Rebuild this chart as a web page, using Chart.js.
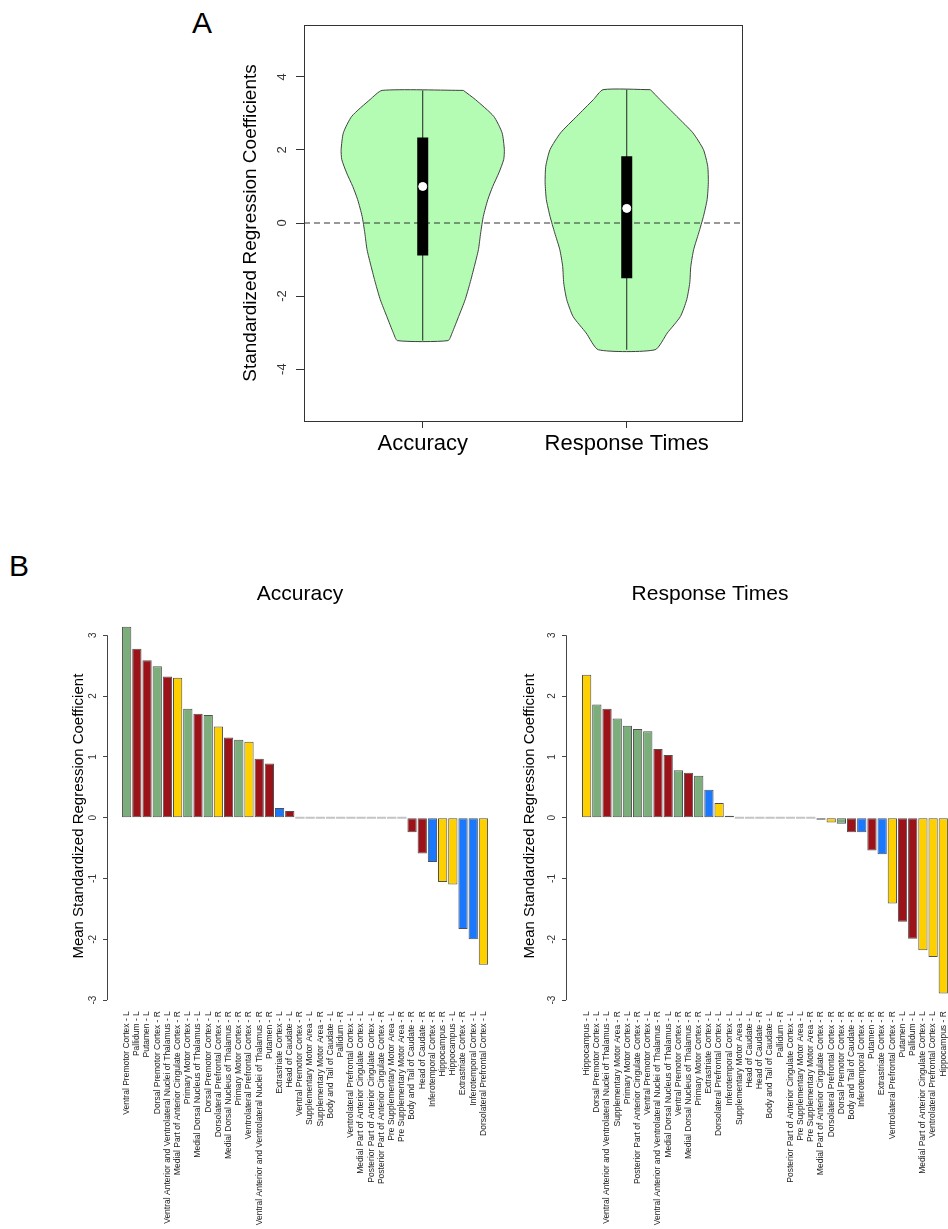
<!DOCTYPE html>
<html>
<head>
<meta charset="utf-8">
<script src="https://cdn.jsdelivr.net/npm/chart.js@4.4.1/dist/chart.umd.min.js"></script>
<style>
body { margin: 0; background: #fff; overflow: hidden; width: 948px; height: 1229px; position: relative; font-family: "Liberation Sans", Arial, sans-serif; }
.box { position: absolute; }
.tag { position: absolute; font-size: 30px; line-height: 30px; color: #000; }
</style>
</head>
<body>
<div class="tag" style="left:192px;top:8px">A</div>
<div class="tag" style="left:9px;top:551px">B</div>
<div class="box" style="left:0;top:0"><canvas id="violin" width="948" height="480"></canvas></div>
<div class="box" style="left:0;top:540px"><canvas id="barAcc" width="500" height="689"></canvas></div>
<div class="box" style="left:471px;top:540px"><canvas id="barRt" width="479" height="689"></canvas></div>
<script>
// panel A - violins
let vioNames = ['Accuracy', 'Response Times'];
let accLevels = [3.63, 3.38, 2.92, 2.47, 2.01, 1.74, 1.37, 1.00, 0.64, 0.18, -0.27, -0.73, -1.19, -1.64, -2.10, -2.56, -3.01, -3.22];
let accHalf = [0.199, 0.258, 0.348, 0.389, 0.400, 0.397, 0.373, 0.343, 0.319, 0.297, 0.284, 0.273, 0.253, 0.232, 0.208, 0.176, 0.144, 0.124];
let rtLevels = [3.65, 3.38, 2.92, 2.47, 2.01, 1.55, 1.10, 0.64, 0.18, -0.27, -0.73, -1.19, -1.64, -2.10, -2.56, -3.01, -3.47];
let rtHalf = [0.116, 0.163, 0.245, 0.324, 0.376, 0.397, 0.400, 0.394, 0.376, 0.353, 0.328, 0.314, 0.309, 0.294, 0.263, 0.199, 0.139];
let boxQ1 = [-0.89, -1.51];
let boxQ3 = [2.34, 1.83];
let boxMed = [1.00, 0.40];
let whiskLo = [-3.22, -3.47];
let whiskHi = [3.63, 3.65];
let yTicksA = [-4, -2, 0, 2, 4];

// panel B - bars
let accRegions = ['Ventral Premotor Cortex - L', 'Pallidum - L', 'Putamen - L', 'Dorsal Premotor Cortex - R',
    'Ventral Anterior and Ventrolateral Nuclei of Thalamus - L', 'Medial Part of Anterior Cingulate Cortex - R',
    'Primary Motor Cortex - L', 'Medial Dorsal Nucleus of Thalamus - L', 'Dorsal Premotor Cortex - L',
    'Dorsolateral Prefrontal Cortex - R', 'Medial Dorsal Nucleus of Thalamus - R', 'Primary Motor Cortex - R',
    'Ventrolateral Prefrontal Cortex - R', 'Ventral Anterior and Ventrolateral Nuclei of Thalamus - R', 'Putamen - R',
    'Extrastriate Cortex - L', 'Head of Caudate - L', 'Ventral Premotor Cortex - R', 'Supplementary Motor Area - L',
    'Supplementary Motor Area - R', 'Body and Tail of Caudate - L', 'Pallidum - R', 'Ventrolateral Prefrontal Cortex - L',
    'Medial Part of Anterior Cingulate Cortex - L', 'Posterior Part of Anterior Cingulate Cortex - L',
    'Posterior Part of Anterior Cingulate Cortex - R', 'Pre Supplementary Motor Area - L', 'Pre Supplementary Motor Area - R',
    'Body and Tail of Caudate - R', 'Head of Caudate - R', 'Inferotemporal Cortex - R', 'Hippocampus - R', 'Hippocampus - L',
    'Extrastriate Cortex - R', 'Inferotemporal Cortex - L', 'Dorsolateral Prefrontal Cortex - L'];
let accValues = [3.14, 2.78, 2.59, 2.49, 2.32, 2.30, 1.79, 1.71, 1.69, 1.50, 1.32, 1.28, 1.25, 0.97, 0.89, 0.16, 0.11,
    0, 0, 0, 0, 0, 0, 0, 0, 0, 0, 0,
    -0.24, -0.59, -0.73, -1.06, -1.10, -1.83, -2.00, -2.42];
let accGroups = ['G', 'R', 'R', 'G', 'R', 'Y', 'G', 'R', 'G', 'Y', 'R', 'G', 'Y', 'R', 'R', 'B', 'R',
    'G', 'G', 'G', 'R', 'R', 'Y', 'Y', 'G', 'G', 'G', 'G',
    'R', 'R', 'B', 'Y', 'Y', 'B', 'B', 'Y'];

let rtRegions = ['Hippocampus - L', 'Dorsal Premotor Cortex - L', 'Ventral Anterior and Ventrolateral Nuclei of Thalamus - L',
    'Supplementary Motor Area - R', 'Primary Motor Cortex - L', 'Posterior Part of Anterior Cingulate Cortex - R',
    'Ventral Premotor Cortex - L', 'Ventral Anterior and Ventrolateral Nuclei of Thalamus - R',
    'Medial Dorsal Nucleus of Thalamus - L', 'Ventral Premotor Cortex - R', 'Medial Dorsal Nucleus of Thalamus - R',
    'Primary Motor Cortex - R', 'Extrastriate Cortex - L', 'Dorsolateral Prefrontal Cortex - L', 'Inferotemporal Cortex - L',
    'Supplementary Motor Area - L', 'Head of Caudate - L', 'Head of Caudate - R', 'Body and Tail of Caudate - L',
    'Pallidum - R', 'Posterior Part of Anterior Cingulate Cortex - L', 'Pre Supplementary Motor Area - L',
    'Pre Supplementary Motor Area - R', 'Medial Part of Anterior Cingulate Cortex - R', 'Dorsolateral Prefrontal Cortex - R',
    'Dorsal Premotor Cortex - R', 'Body and Tail of Caudate - R', 'Inferotemporal Cortex - R', 'Putamen - R',
    'Extrastriate Cortex - R', 'Ventrolateral Prefrontal Cortex - R', 'Putamen - L', 'Pallidum - L',
    'Medial Part of Anterior Cingulate Cortex - L', 'Ventrolateral Prefrontal Cortex - L', 'Hippocampus - R'];
let rtValues = [2.35, 1.86, 1.79, 1.63, 1.51, 1.46, 1.42, 1.13, 1.03, 0.78, 0.74, 0.69, 0.46, 0.24, 0.03,
    0, 0, 0, 0, 0, 0, 0, 0,
    -0.01, -0.08, -0.10, -0.24, -0.24, -0.54, -0.60, -1.41, -1.71, -1.99, -2.18, -2.29, -2.89];
let rtGroups = ['Y', 'G', 'R', 'G', 'G', 'G', 'G', 'R', 'R', 'G', 'R', 'G', 'B', 'Y', 'B',
    'G', 'R', 'R', 'R', 'R', 'G', 'G', 'G',
    'Y', 'Y', 'G', 'R', 'B', 'R', 'B', 'Y', 'R', 'R', 'Y', 'Y', 'Y'];
let yTicksB = [-3, -2, -1, 0, 1, 2, 3];

let groupColors = { G: '#7BAE7B', R: '#9B1218', Y: '#FFD000', B: '#1A78FF' };
let zeroColor = '#C4C4C4';

Chart.defaults.font.family = '"Liberation Sans", Arial, sans-serif';
Chart.defaults.color = '#000';

// box round the plot region, like R
const framePlugin = {
    id: 'frame',
    afterDraw(chart) {
        const a = chart.chartArea, ctx = chart.ctx;
        ctx.save();
        ctx.strokeStyle = '#333';
        ctx.lineWidth = 1;
        ctx.strokeRect(Math.round(a.left) + 0.5, Math.round(a.top) + 0.5,
            Math.round(a.right - a.left), Math.round(a.bottom - a.top));
        ctx.restore();
    }
};

// y axis line only over the tick range
const axisLinePlugin = {
    id: 'axisLine',
    afterDraw(chart) {
        const y = chart.scales.y, ctx = chart.ctx;
        const x = Math.round(y.right) + 0.5;
        ctx.save();
        ctx.strokeStyle = '#444';
        ctx.lineWidth = 1;
        ctx.beginPath();
        ctx.moveTo(x, y.getPixelForValue(yTicksB[0]));
        ctx.lineTo(x, y.getPixelForValue(yTicksB[yTicksB.length - 1]));
        ctx.stroke();
        ctx.restore();
    }
};

function violinPoints(center, levels, half) {
    const right = levels.map((y, i) => ({ x: center + half[i], y: y }));
    const left = levels.map((y, i) => ({ x: center - half[i], y: y })).reverse();
    return right.concat(left, [right[0]]);
}

const xMinA = 0.418, xMaxA = 2.565;
let vioSets = [];
[[accLevels, accHalf], [rtLevels, rtHalf]].forEach((v, i) => {
    vioSets.push({
        data: violinPoints(i + 1, v[0], v[1]), showLine: true, fill: 'shape',
        backgroundColor: '#B4FBB4', borderColor: '#404040', borderWidth: 1,
        pointRadius: 0, tension: 0.2, order: 5
    });
    vioSets.push({
        data: [{ x: i + 1, y: whiskLo[i] }, { x: i + 1, y: whiskHi[i] }], showLine: true,
        borderColor: '#222', borderWidth: 1, pointRadius: 0, order: 3
    });
    vioSets.push({
        data: [{ x: i + 1, y: boxQ1[i] }, { x: i + 1, y: boxQ3[i] }], showLine: true,
        borderColor: '#000', borderWidth: 11, borderCapStyle: 'butt', pointRadius: 0, order: 2
    });
});
vioSets.push({
    data: [{ x: xMinA, y: 0 }, { x: xMaxA, y: 0 }], showLine: true,
    borderColor: '#333', borderWidth: 1, borderDash: [6, 4], pointRadius: 0, order: 4
});
vioSets.push({
    data: boxMed.map((m, i) => ({ x: i + 1, y: m })), showLine: false,
    pointRadius: 4, pointBackgroundColor: '#fff', pointBorderColor: '#fff', order: 1
});

new Chart(document.getElementById('violin'), {
    type: 'scatter',
    data: { datasets: vioSets },
    plugins: [framePlugin],
    options: {
        responsive: false, animation: false, devicePixelRatio: 1,
        layout: { padding: { top: 25, right: 206, left: 0, bottom: 0 } },
        plugins: { legend: { display: false }, tooltip: { enabled: false } },
        scales: {
            x: {
                type: 'linear', min: xMinA, max: xMaxA,
                afterBuildTicks: s => { s.ticks = vioNames.map((n, i) => ({ value: i + 1 })); },
                afterFit: s => { s.height = 59; s.paddingLeft = 0; s.paddingRight = 0; },
                grid: { drawOnChartArea: false, tickLength: 7, color: '#333' },
                border: { display: false },
                ticks: { font: { size: 22 }, color: '#000', padding: 3, maxRotation: 0, autoSkip: false,
                    callback: v => vioNames[v - 1] }
            },
            y: {
                min: -5.42, max: 5.42,
                afterBuildTicks: s => { s.ticks = yTicksA.map(v => ({ value: v })); },
                afterFit: s => { s.width = 304; s.paddingTop = 0; s.paddingBottom = 0; },
                grid: { drawOnChartArea: false, tickLength: 8, color: '#333' },
                border: { display: false },
                ticks: { font: { size: 13 }, color: '#333', minRotation: 90, maxRotation: 90, crossAlign: 'center', padding: 8 },
                title: { display: true, text: 'Standardized Regression Coefficients', font: { size: 19 }, color: '#000', padding: { top: 239 } }
            }
        }
    }
});

function barChart(id, title, regions, values, groups, lay) {
    return new Chart(document.getElementById(id), {
        type: 'bar',
        data: {
            datasets: [{
                data: values.map((v, i) => ({ x: i, y: v })),
                backgroundColor: values.map((v, i) => v === 0 ? zeroColor : groupColors[groups[i]]),
                borderColor: values.map(v => v === 0 ? zeroColor : '#505050'),
                borderWidth: values.map(v => v === 0 ? 0 : 1),
                borderSkipped: false,
                minBarLength: 2,
                categoryPercentage: 1,
                barPercentage: 0.91
            }]
        },
        plugins: [axisLinePlugin],
        options: {
            responsive: false, animation: false, devicePixelRatio: 1,
            layout: { padding: { top: 0, right: lay.padRight, left: 0, bottom: 0 } },
            plugins: {
                legend: { display: false }, tooltip: { enabled: false },
                title: { display: true, text: title, fullSize: lay.fullTitle, color: '#000',
                    font: { size: 21, weight: 'normal' }, padding: { top: 41.4, bottom: 16.5 } }
            },
            scales: {
                x: {
                    type: 'linear', offset: false, min: lay.xMin, max: lay.xMax,
                    afterBuildTicks: s => { s.ticks = regions.map((r, i) => ({ value: i })); },
                    afterFit: s => { s.height = 219.8; s.paddingLeft = 0; s.paddingRight = 0; },
                    grid: { display: false, drawTicks: false },
                    border: { display: false },
                    ticks: { autoSkip: false, minRotation: 90, maxRotation: 90, font: { size: 8.5 }, color: '#222',
                        padding: 2, labelOffset: 0, callback: v => regions[v] }
                },
                y: {
                    min: -3.15, max: 3.2,
                    afterBuildTicks: s => { s.ticks = yTicksB.map(v => ({ value: v })); },
                    afterFit: s => { s.width = lay.yWidth; s.paddingTop = 0; s.paddingBottom = 0; },
                    grid: { drawOnChartArea: false, tickLength: 4, color: '#444' },
                    border: { display: false },
                    ticks: { font: { size: 10 }, color: '#333', minRotation: 90, maxRotation: 90, crossAlign: 'center', padding: 5 },
                    title: { display: true, text: 'Mean Standardized Regression Coefficient', font: { size: 15 }, color: '#000',
                        padding: { top: lay.titlePad } }
                }
            }
        }
    });
}

barChart('barAcc', 'Accuracy', accRegions, accValues, accGroups,
    { padRight: 7, yWidth: 107, titlePad: 69.7, xMin: -1.93, xMax: 35.94, fullTitle: false });
barChart('barRt', 'Response Times', rtRegions, rtValues, rtGroups,
    { padRight: 1, yWidth: 95, titlePad: 50, xMin: -2.026, xMax: 35.56, fullTitle: true });
</script>
</body>
</html>
